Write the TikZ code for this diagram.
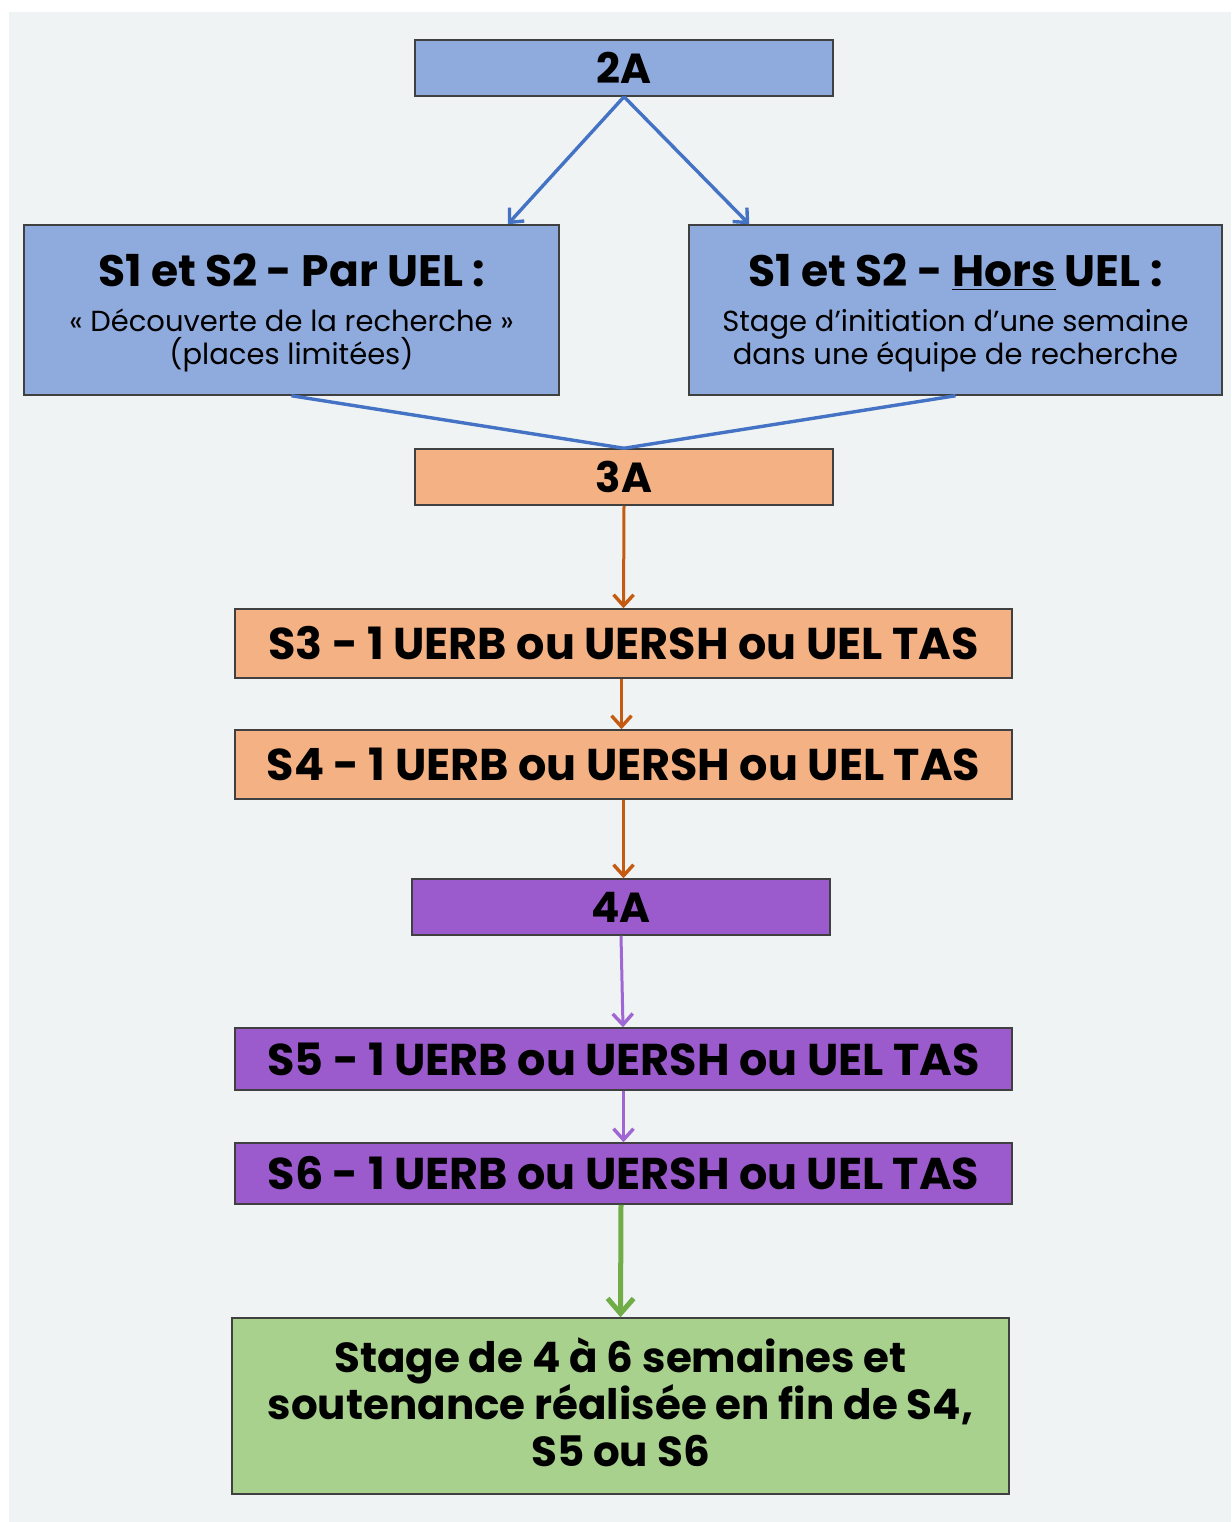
\documentclass[tikz,border=0pt]{standalone}
\usepackage{fontspec}
\setmainfont{Poppins}
\usetikzlibrary{arrows.meta}
\definecolor{bg}{HTML}{EFF3F4}
\definecolor{boxblue}{HTML}{8FAADC}
\definecolor{boxorange}{HTML}{F4B183}
\definecolor{boxpurple}{HTML}{9C5BCD}
\definecolor{boxgreen}{HTML}{A9D18E}
\definecolor{edge}{HTML}{404040}
\definecolor{arrblue}{HTML}{4472C4}
\definecolor{arrorange}{HTML}{C55A11}
\definecolor{arrpurple}{HTML}{A066D3}
\definecolor{arrgreen}{HTML}{70AD47}
\tikzset{
  box/.style={draw=edge, line width=1.5pt, inner sep=0pt, align=center, text=black},
  bluebox/.style={box, fill=boxblue},
  orangebox/.style={box, fill=boxorange},
  purplebox/.style={box, fill=boxpurple},
  greenbox/.style={box, fill=boxgreen},
  bigtxt/.style={font=\fontsize{44.5}{50}\selectfont\bfseries},
  hdrtxt/.style={anchor=base, inner sep=0pt, text=black, font=\fontsize{44}{50}\selectfont\bfseries},
  subtxt/.style={anchor=base, inner sep=0pt, text=black, font=\fontsize{29}{34}\selectfont},
  stagetxt/.style={inner sep=0pt, align=center, text=black, font=\fontsize{42}{47}\selectfont\bfseries},
  conn/.style={line width=3.4pt, -{Straight Barb[length=11pt,width=20pt,line width=3.4pt]}},
}
\begin{document}
\begin{tikzpicture}[x=1pt,y=-1pt]
\useasboundingbox (0,0) rectangle (1231,1522);
\fill[white] (0,0) rectangle (1231,1522);
\fill[bg] (9,12) rectangle (1231,1522);

\node[bluebox, font=\fontsize{42}{48}\selectfont\bfseries, minimum width=418pt, minimum height=56pt] (a2) at (624,68) {2A};

\node[bluebox, minimum width=535pt, minimum height=170pt] (par) at (291.5,310) {};
\node[hdrtxt] (parT) at (291.5,287) {S1 et S2 - Par UEL :};
\node[subtxt] (parS1) at (291.5,331) {« Découverte de la recherche »};
\node[subtxt] (parS2) at (291.5,364) {(places limitées)};

\node[bluebox, minimum width=533pt, minimum height=170pt] (hors) at (955.5,310) {};
\node[hdrtxt] (horsT) at (955.5,287) {S1 et S2 - \underline{Hors} UEL :};
\node[subtxt] (horsS1) at (955.5,331) {Stage d’initiation d’une semaine};
\node[subtxt] (horsS2) at (955.5,364) {dans une équipe de recherche};

\node[orangebox, font=\fontsize{42}{48}\selectfont\bfseries, minimum width=418pt, minimum height=56pt] (a3) at (624,477) {3A};
\node[orangebox, bigtxt, minimum width=777pt, minimum height=69pt] (s3) at (623.5,643.5) {S3 - 1 UERB ou UERSH ou UEL TAS};
\node[orangebox, bigtxt, minimum width=777pt, minimum height=69pt] (s4) at (623.5,764.5) {S4 - 1 UERB ou UERSH ou UEL TAS};
\node[purplebox, font=\fontsize{42}{48}\selectfont\bfseries, minimum width=418pt, minimum height=56pt] (a4) at (621,907) {4A};
\node[purplebox, bigtxt, minimum width=777pt, minimum height=62pt] (s5) at (623.5,1059) {S5 - 1 UERB ou UERSH ou UEL TAS};
\node[purplebox, bigtxt, minimum width=777pt, minimum height=61pt] (s6) at (623.5,1173.5) {S6 - 1 UERB ou UERSH ou UEL TAS};
\node[greenbox, minimum width=777pt, minimum height=176pt] (stage) at (620.5,1406) {};
\node[stagetxt] (stageT) at (620.5,1402)
  {Stage de 4 à 6 semaines et\\soutenance réalisée en fin de S4,\\S5 ou S6};

\coordinate (a2b) at (a2.south);
\draw[conn, arrblue] (a2b) -- ([xshift=-52pt]par.north east);
\draw[conn, arrblue] (a2b) -- ([xshift=61pt]hors.north west);
\draw[line width=3.4pt, arrblue] (par.south) -- (a3.north);
\draw[line width=3.4pt, arrblue] (hors.south) -- (a3.north);
\draw[conn, arrorange, line width=3pt] (a3.south) -- (s3.north);
\draw[conn, arrorange, line width=3pt] ([xshift=-2pt]s3.south) -- ([xshift=-2pt]s4.north);
\draw[conn, arrorange, line width=3pt] (s4.south) -- (s4.south |- a4.north);
\draw[conn, arrpurple, line width=3pt] (a4.south) -- ([xshift=-0.5pt]s5.north);
\draw[conn, arrpurple, line width=3pt] (s5.south) -- (s6.north);
\draw[line width=5pt, arrgreen, -{Straight Barb[length=15pt,width=26pt,line width=5pt]}] ([xshift=-2.5pt]s6.south) -- (stage.north);
\end{tikzpicture}
\end{document}
